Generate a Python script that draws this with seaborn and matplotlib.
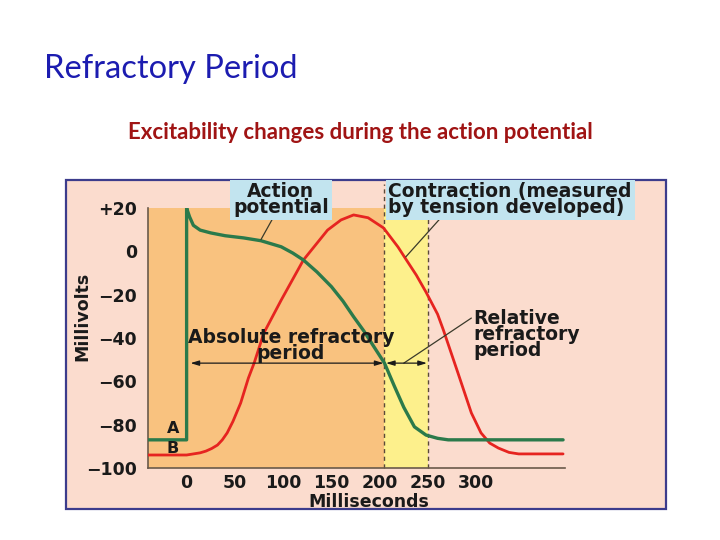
import pandas as pd
import seaborn as sns
import matplotlib.pyplot as plt
from matplotlib.patches import Rectangle

# action potential (green), ms vs mV
ap_ms = [-40, 0, 0, 3, 7, 14, 25, 40, 59, 77, 98, 110, 121, 135, 150, 162, 173, 184, 194,
         205, 215, 225, 236, 248, 260, 271, 300, 390]
ap_mv = [-87, -87, 20, 16, 12, 9.8, 8.5, 7.2, 6.2, 4.9, 2.1, -0.8, -4, -9.5, -16.3, -23, -30.2, -37, -44,
         -51.6, -62, -72, -81, -84.8, -86.3, -87, -87, -87]

# contraction / tension (red)
ten_ms = [-40, 0, 14, 20, 26, 32, 37, 42, 48, 56, 64, 70, 80, 98, 121, 146, 160, 173, 188, 204, 219, 227,
          238, 248, 260, 266, 281, 295, 305, 314, 323, 334, 344, 390]
ten_mv = [-94, -94, -93, -92.2, -91, -89.4, -87, -83.8, -78.5, -70, -58.5, -51.5, -37.7, -22.5, -4, 9.8,
          14.5, 16.8, 15.5, 10.8, 2, -3.5, -11, -18.8, -29, -36.3, -56, -74.6, -83.8, -88.5, -90.8,
          -92.8, -93.5, -93.5]

abs_end = 205   # end of absolute refractory period (ms)
rel_end = 250   # end of relative refractory period (ms)
y_ticks = [20, 0, -20, -40, -60, -80, -100]
y_labels = ["+20", "0", "\u221220", "\u221240", "\u221260", "\u221280", "\u2212100"]
x_ticks = [0, 50, 100, 150, 200, 250, 300]

ap = pd.DataFrame({"ms": ap_ms, "mV": ap_mv})
ten = pd.DataFrame({"ms": ten_ms, "mV": ten_mv})

sns.set_style("white")
plt.rcParams["font.family"] = ["DejaVu Sans"]

fig = plt.figure(figsize=(7.2, 5.4), dpi=100)
fig.patch.set_facecolor("white")

# slide title + subtitle
fig.text(44 / 720, 1 - 78 / 540, "Refractory Period", fontsize=23.5, color="#1c1cb0",
         family=["Lato", "DejaVu Sans"], va="baseline")
fig.text(0.5, 1 - 139 / 540, "Excitability changes during the action potential", fontsize=16,
         color="#a01414", fontweight="bold", family=["Lato", "DejaVu Sans"], ha="center", va="baseline")

# pink panel
fig.add_artist(Rectangle((66 / 720, 1 - 509 / 540), 600 / 720, 329 / 540, transform=fig.transFigure,
                         facecolor="#fbdcce", edgecolor="#3c3c8c", lw=1.6, zorder=0))

ax = fig.add_axes([148 / 720, 1 - 468 / 540, 417 / 720, 260 / 540])
ax.set_facecolor("none")
ax.set_xlim(-40, 392)
ax.set_ylim(-100, 20)

# shaded periods
ax.add_patch(Rectangle((-40, -100), abs_end + 40, 120, facecolor="#f9c27f", edgecolor="none", zorder=0))
ax.add_patch(Rectangle((abs_end, -100), rel_end - abs_end, 120, facecolor="#fdf08c", edgecolor="none", zorder=0))
for xv in [abs_end, rel_end]:
    ax.plot([xv, xv], [-100, 31], ls=(0, (3, 2.5)), color="#5a4a3a", lw=1, zorder=1, clip_on=False)

sns.lineplot(data=ten, x="ms", y="mV", sort=False, estimator=None, color="#e62420", lw=2.0, ax=ax, zorder=3)
sns.lineplot(data=ap, x="ms", y="mV", sort=False, estimator=None, color="#2b7a4b", lw=2.4, ax=ax, zorder=4)

for s in ["top", "right"]:
    ax.spines[s].set_visible(False)
for s in ["left", "bottom"]:
    ax.spines[s].set_color("#6a5a4a")
    ax.spines[s].set_linewidth(1.2)

ax.set_yticks(y_ticks, y_labels)
ax.set_xticks(x_ticks)
ax.tick_params(axis="y", direction="inout", length=10, width=1, color="#6a5a4a", pad=3,
               labelsize=12.5, labelcolor="#1a1a1a")
ax.tick_params(axis="x", direction="in", length=7, width=1, color="#6a5a4a", pad=4,
               labelsize=12.5, labelcolor="#1a1a1a")
for lbl in ax.get_xticklabels() + ax.get_yticklabels():
    lbl.set_fontweight("bold")

ax.set_ylabel("Millivolts", fontsize=12.5, fontweight="bold", color="#1a1a1a")
ax.yaxis.set_label_coords(-0.135, 0.585)
ax.set_xlabel("Milliseconds", fontsize=12.5, fontweight="bold", color="#1a1a1a", va="top")
ax.xaxis.set_label_coords(0.53, -0.098)

txt = dict(fontsize=13.5, fontweight="bold", color="#1a1a1a", linespacing=0.8)
box = dict(boxstyle="square,pad=0.15", facecolor="#c2e4ef", edgecolor="none")

ax.text(97.6, 23.7, "Action\npotential", ha="center", va="center", bbox=box, zorder=6,
        clip_on=False, **txt)
ax.text(209, 23.7, "Contraction (measured\nby tension developed)", ha="left", va="center", bbox=box,
        zorder=6, clip_on=False, **txt)
ax.text(108, -43.5, "Absolute refractory\nperiod", ha="center", va="center", zorder=6, **txt)
ax.text(297, -38.6, "Relative\nrefractory\nperiod", ha="left", va="center", zorder=6, **txt)
ax.text(-14.5, -81.8, "A", ha="center", va="center", zorder=6, fontsize=11.5, fontweight="bold",
        color="#1a1a1a")
ax.text(-14.5, -91, "B", ha="center", va="center", zorder=6, fontsize=11.5, fontweight="bold",
        color="#1a1a1a")

# leader lines
ax.plot([90, 77], [15.8, 5.4], color="#3a3a2a", lw=0.9, zorder=5)
ax.plot([264, 227], [15.8, -2.6], color="#3a3a2a", lw=0.9, zorder=5)
ax.plot([295, 225], [-30.8, -51.6], color="#3a3a2a", lw=0.9, zorder=5)

arrow = dict(arrowstyle="<|-|>,head_length=0.5,head_width=0.15", color="#1a1a1a", lw=0.9,
             shrinkA=0, shrinkB=0)
ax.annotate("", xy=(4, -51.6), xytext=(abs_end - 1, -51.6), arrowprops=arrow, zorder=5)
ax.annotate("", xy=(abs_end + 1.5, -51.6), xytext=(rel_end - 1, -51.6), arrowprops=arrow, zorder=5)

fig.savefig("out.png", dpi=100)
